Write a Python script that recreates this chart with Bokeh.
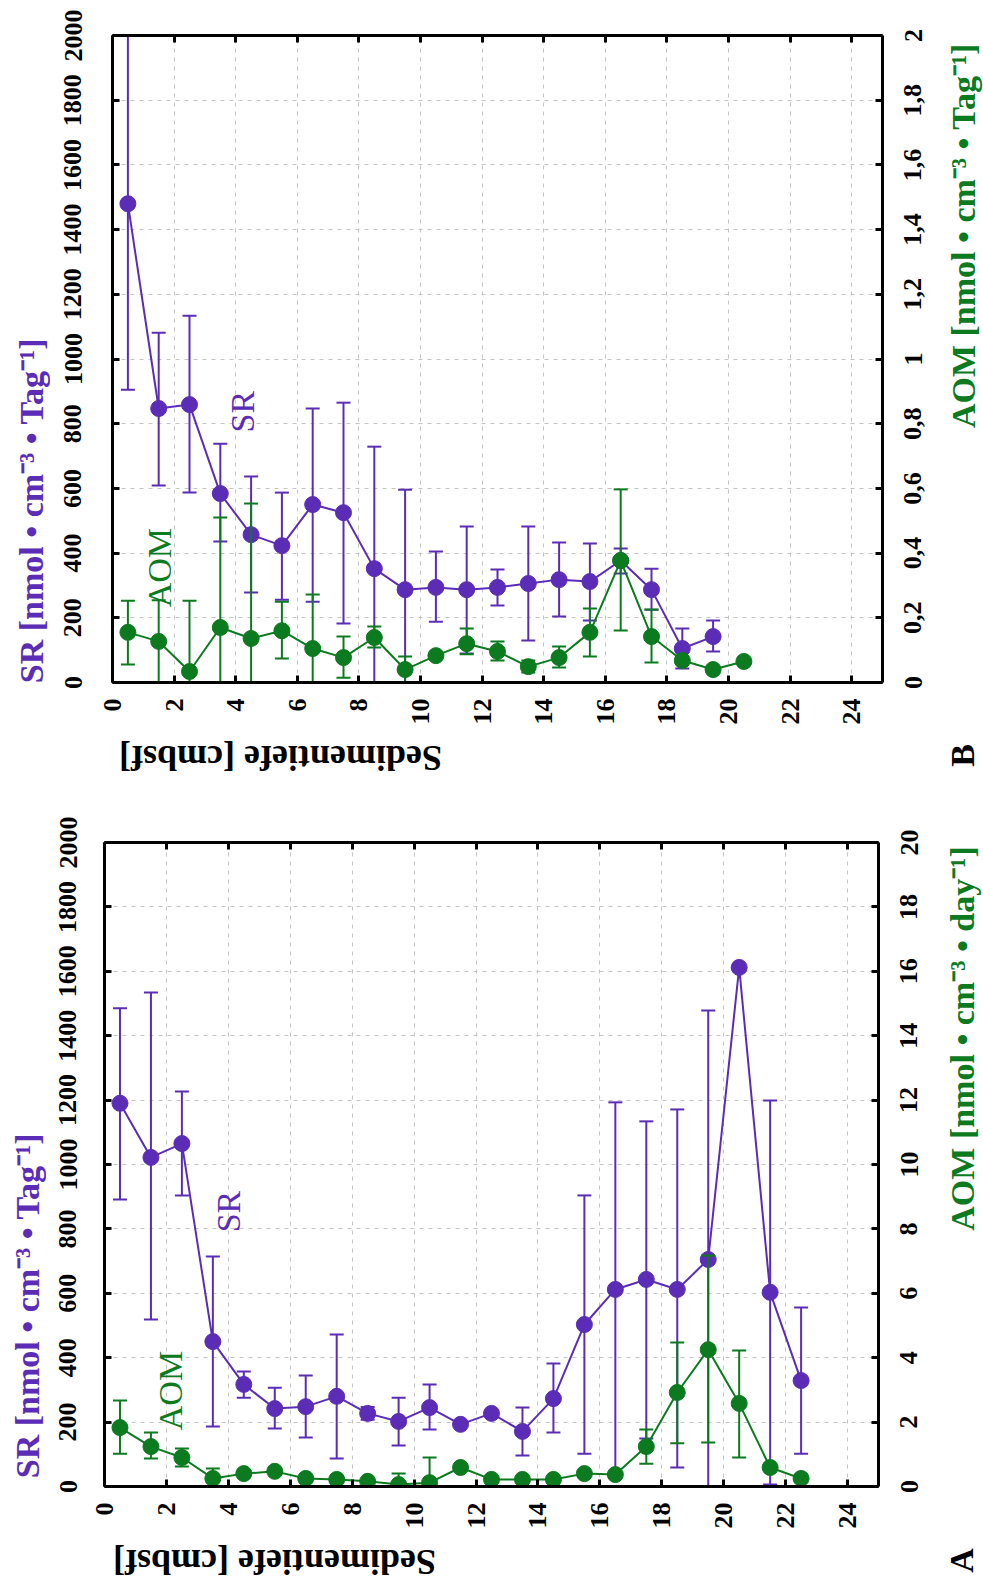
import math
from bokeh.plotting import figure
from bokeh.models import (Range1d, LinearAxis, FixedTicker, Label,
                          CustomJSTickFormatter, ColumnDataSource)
from bokeh.layouts import column, row
from bokeh.embed import file_html
from bokeh.resources import INLINE

NAN = float("nan")

# ---------------- data: panel B (top) ----------------
depth_sr_B = [0.5, 1.5, 2.5, 3.5, 4.5, 5.5, 6.5, 7.5, 8.5, 9.5, 10.5, 11.5,
              12.5, 13.5, 14.5, 15.5, 16.5, 17.5, 18.5, 19.5]
sr_B = [1480, 847, 859, 584, 457, 423, 550, 525, 352, 287, 294, 287,
        294, 306, 318, 312, 377, 287, 105, 142]
sr_B_hi = [2055, 1081, 1134, 738, 637, 587, 847, 865, 729, 596, 405, 482,
           349, 482, 433, 430, 414, 352, 167, 192]
sr_B_lo = [905, 609, 587, 436, 278, 256, 250, 182, -25, -22, 188, 90,
           238, 130, 204, 192, 337, 225, 43, 96]

depth_aom_B = [0.5, 1.5, 2.5, 3.5, 4.5, 5.5, 6.5, 7.5, 8.5, 9.5, 10.5, 11.5,
               12.5, 13.5, 14.5, 15.5, 16.5, 17.5, 18.5, 19.5, 20.5]
aom_B = [0.155, 0.127, 0.034, 0.17, 0.136, 0.16, 0.105, 0.077, 0.139, 0.04,
         0.083, 0.12, 0.096, 0.049, 0.077, 0.155, 0.377, 0.142, 0.068, 0.04, 0.065]
aom_B_hi = [0.253, 0.254, 0.253, 0.51, 0.553, 0.25, 0.272, 0.142, 0.173, 0.08,
            0.093, 0.167, 0.127, 0.068, 0.111, 0.229, 0.597, 0.226, NAN, NAN, NAN]
aom_B_lo = [0.056, 0.0, -0.185, -0.17, -0.28, 0.074, -0.062, 0.015, 0.108, 0.0,
            0.073, 0.087, 0.068, 0.031, 0.046, 0.08, 0.161, 0.062, NAN, NAN, NAN]

# ---------------- data: panel A (bottom) ----------------
depth_A = [0.5, 1.5, 2.5, 3.5, 4.5, 5.5, 6.5, 7.5, 8.5, 9.5, 10.5, 11.5,
           12.5, 13.5, 14.5, 15.5, 16.5, 17.5, 18.5, 19.5, 20.5, 21.5, 22.5]
sr_A = [1190, 1022, 1065, 450, 317, 242, 248, 280, 227, 202, 245, 193,
        227, 171, 273, 503, 612, 643, 612, 705, 1612, 603, 329]
sr_A_hi = [1485, 1534, 1227, 714, 357, 307, 345, 472, 247, 276, 317, NAN,
           NAN, 245, 382, 904, 1193, 1134, 1171, 1478, NAN, 1199, 556]
sr_A_lo = [891, 519, 904, 186, 276, 180, 152, 87, 207, 127, 177, NAN,
           NAN, 96, 168, 102, 31, 149, 59, -68, NAN, 6, 102]
aom_A = [1.83, 1.24, 0.90, 0.25, 0.40, 0.47, 0.25, 0.22, 0.16, 0.06, 0.12, 0.59,
         0.22, 0.22, 0.22, 0.40, 0.37, 1.24, 2.92, 4.25, 2.58, 0.59, 0.25]
aom_A_hi = [2.67, 1.68, 1.18, 0.56, NAN, NAN, NAN, NAN, NAN, 0.40, 0.90, NAN,
            NAN, NAN, NAN, NAN, NAN, 1.77, 4.47, 7.17, 4.22, NAN, NAN]
aom_A_lo = [1.02, 0.87, 0.62, -0.06, NAN, NAN, NAN, NAN, NAN, -0.28, -0.66, NAN,
            NAN, NAN, NAN, NAN, NAN, 0.71, 1.34, 1.37, 0.90, NAN, NAN]

# ---------------- ticks / labels ----------------
depth_ticks = [0, 2, 4, 6, 8, 10, 12, 14, 16, 18, 20, 22, 24]
sr_ticks = [0, 200, 400, 600, 800, 1000, 1200, 1400, 1600, 1800, 2000]
aom_ticks_B = [0, 0.2, 0.4, 0.6, 0.8, 1, 1.2, 1.4, 1.6, 1.8, 2]
aom_tick_labels_B = ["0", "0,2", "0,4", "0,6", "0,8", "1", "1,2", "1,4", "1,6", "1,8", "2"]
aom_ticks_A = [0, 2, 4, 6, 8, 10, 12, 14, 16, 18, 20]
aom_tick_labels_A = ["0", "2", "4", "6", "8", "10", "12", "14", "16", "18", "20"]

sr_label = "SR [nmol • cm⁻³ • Tag⁻¹]"
aom_label_B = "AOM [nmol • cm⁻³ • Tag⁻¹]"
aom_label_A = "AOM [nmol • cm⁻³ • day⁻¹]"
depth_label = "Sedimentiefe [cmbsf]"

PURPLE = "#5B2DB6"
GREEN = "#0C7A1E"
SERIF = "Liberation Serif"
TOOLS = dict(output_backend="svg", toolbar_location=None,
             background_fill_color="white", border_fill_color="white")


def empty_fmt():
    return CustomJSTickFormatter(code="return '';")


def list_fmt(tvals, tlabs):
    return CustomJSTickFormatter(args=dict(tick_vals=tvals, tick_labs=tlabs), code="""
for (let i = 0; i < tick_vals.length; i++) {
  if (Math.abs(tick_vals[i] - tick) < 1e-9) return tick_labs[i];
}
return '';
""")


def style_axis(ax, ticks):
    ax.ticker = FixedTicker(ticks=ticks)
    ax.axis_line_width = 3
    ax.axis_line_color = "black"
    ax.major_tick_in = 7
    ax.major_tick_out = 0
    ax.major_tick_line_width = 3
    ax.major_tick_line_color = "black"
    ax.minor_tick_line_color = None
    ax.major_label_text_font = SERIF
    ax.major_label_text_font_style = "bold"
    ax.major_label_text_font_size = "26px"
    ax.major_label_text_color = "black"


def hide_labels(ax):
    ax.formatter = empty_fmt()
    ax.major_label_text_font_size = "0px"
    ax.major_label_standoff = 0


def series(p, x, y, lo, hi, color, y_range_name="default"):
    src = ColumnDataSource(dict(x=x, y=y, lo=lo, hi=hi))
    kw = {} if y_range_name == "default" else {"y_range_name": y_range_name}
    p.segment(x0="x", y0="lo", x1="x", y1="hi", source=src, line_color=color,
              line_width=2, **kw)
    p.scatter(x="x", y="lo", source=src, marker="dash", size=14,
              line_color=color, line_width=2, **kw)
    p.scatter(x="x", y="hi", source=src, marker="dash", size=14,
              line_color=color, line_width=2, **kw)
    p.line(x="x", y="y", source=src, line_color=color, line_width=2, **kw)
    p.scatter(x="x", y="y", source=src, marker="circle", size=16,
              fill_color=color, line_color=color, **kw)


def text_label(p, sx, sy, text, angle, align, color, size, bold=True):
    p.add_layout(Label(x=sx, y=sy, x_units="screen", y_units="screen", text=text,
                       angle=angle, text_align=align, text_baseline="middle",
                       text_font=SERIF, text_font_style="bold" if bold else "normal",
                       text_font_size=size, text_color=color))


def blank(w, h):
    f = figure(frame_width=w, frame_height=h, x_axis_type=None, y_axis_type=None,
               x_range=Range1d(0, 1), y_range=Range1d(0, 1),
               min_border_left=0, min_border_right=0, min_border_top=0,
               min_border_bottom=0, **TOOLS)
    f.outline_line_color = None
    return f


def main_fig(fw, fh, bl, bt, bb, aom_range, aom_ticks, sr_x, sr_y, sr_lo, sr_hi,
             aom_x, aom_v, aom_lo, aom_hi, sr_pos, aom_pos, sr_standoff):
    p = figure(frame_width=fw, frame_height=fh,
               x_range=Range1d(0, 25), y_range=Range1d(0, 2000),
               min_border_left=bl, min_border_top=bt,
               min_border_right=5, min_border_bottom=bb, **TOOLS)
    p.outline_line_color = None
    p.extra_y_ranges = {"aom": aom_range}

    xa = p.xaxis[0]
    style_axis(xa, depth_ticks)
    xa.major_label_orientation = math.pi / 2
    xa.major_label_standoff = 16

    ya = p.yaxis[0]
    style_axis(ya, sr_ticks)
    ya.major_label_orientation = "vertical"
    ya.major_label_standoff = sr_standoff

    ra = LinearAxis(y_range_name="aom")
    style_axis(ra, aom_ticks)
    hide_labels(ra)
    p.add_layout(ra, "right")

    ta = LinearAxis()
    style_axis(ta, depth_ticks)
    hide_labels(ta)
    p.add_layout(ta, "above")

    for g in (p.xgrid[0], p.ygrid[0]):
        g.grid_line_color = "#c4c4c4"
        g.grid_line_dash = "4 5"
        g.grid_line_width = 1

    series(p, sr_x, sr_y, sr_lo, sr_hi, PURPLE)
    series(p, aom_x, aom_v, aom_lo, aom_hi, GREEN, "aom")

    p.add_layout(Label(x=sr_pos[0], y=sr_pos[1], text="SR", angle=math.pi / 2,
                       text_align="center", text_baseline="middle",
                       text_font=SERIF, text_font_size="34px", text_color=PURPLE))
    p.add_layout(Label(x=aom_pos[0], y=aom_pos[1], text="AOM", angle=math.pi / 2,
                       text_align="center", text_baseline="middle",
                       text_font=SERIF, text_font_size="34px", text_color=GREEN))
    return p


def right_fig(fw, fh, bl, bt, bb, aom_range, ticks, labels, title, title_pos):
    r = figure(frame_width=fw, frame_height=fh, x_axis_type=None, y_axis_type=None,
               x_range=Range1d(0, 1), y_range=aom_range,
               min_border_left=bl, min_border_top=bt, min_border_right=0,
               min_border_bottom=bb, **TOOLS)
    r.outline_line_color = None
    ax = LinearAxis()
    style_axis(ax, ticks)
    ax.formatter = list_fmt(ticks, labels)
    ax.axis_line_color = None
    ax.major_tick_line_color = None
    ax.major_label_orientation = "vertical"
    ax.major_label_standoff = 14
    r.add_layout(ax, "left")
    text_label(r, title_pos[0], title_pos[1], title, math.pi / 2, "center", GREEN, "34px")
    return r


aom_range_B = Range1d(0, 2)
aom_range_A = Range1d(0, 20)

# ---------------- panel B ----------------
leftB = blank(50, 730)
text_label(leftB, 31, 255, sr_label, math.pi / 2, "center", PURPLE, "34px")
mainB = main_fig(770, 647, 62, 35, 48, aom_range_B, aom_ticks_B,
                 depth_sr_B, sr_B, sr_B_lo, sr_B_hi,
                 depth_aom_B, aom_B, aom_B_lo, aom_B_hi, (4.22, 837), (1.53, 355), 31)
rightB = right_fig(48, 647, 48, 35, 48, aom_range_B, aom_ticks_B, aom_tick_labels_B,
                   aom_label_B, (28, 447))
bottomB = blank(983, 58)
text_label(bottomB, 280, 31, depth_label, math.pi, "center", "black", "36px")
text_label(bottomB, 962, 33, "B", math.pi / 2, "center", "black", "34px")

# ---------------- panel A ----------------
leftA = blank(46, 746)
text_label(leftA, 27, 283, sr_label, math.pi / 2, "center", PURPLE, "34px")
mainA = main_fig(774, 644, 58, 54, 48, aom_range_A, aom_ticks_A,
                 depth_A, sr_A, sr_A_lo, sr_A_hi,
                 depth_A, aom_A, aom_A_lo, aom_A_hi, (4.0, 854), (2.13, 298), 28)
rightA = right_fig(52, 644, 48, 54, 48, aom_range_A, aom_ticks_A, aom_tick_labels_A,
                   aom_label_A, (31, 448))
bottomA = blank(983, 50)
text_label(bottomA, 274, 23, depth_label, math.pi, "center", "black", "36px")
text_label(bottomA, 961, 24, "A", math.pi / 2, "center", "black", "34px")

layout = column(row(leftB, mainB, rightB, spacing=0), bottomB,
                row(leftA, mainA, rightA, spacing=0), bottomA, spacing=0)
open("out.html", "w").write(file_html(layout, INLINE))
